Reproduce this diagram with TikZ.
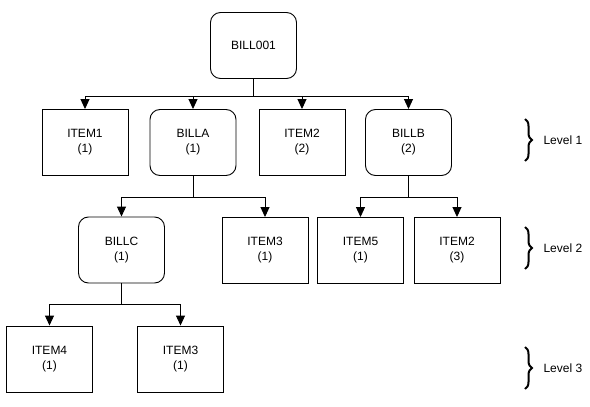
\documentclass[tikz,border=0pt]{standalone}
\usepackage{fontspec}
\setmainfont{Liberation Sans}
\usetikzlibrary{arrows.meta,decorations.pathreplacing}

\begin{document}
\begin{tikzpicture}[x=1pt,y=-1pt,
    part/.style={draw, line width=0.9pt, minimum width=86pt, minimum height=66pt,
        align=center, inner sep=2pt, font=\fontsize{12}{15}\selectfont},
    bill/.style={part, rounded corners=10pt},
    link/.style={line width=0.9pt, -{Triangle[width=9pt,length=10pt]}},
    lvl/.style={decorate, decoration={brace, amplitude=7pt}, line width=2pt},
    lvltext/.style={right, font=\fontsize{12}{14}\selectfont}]
    \useasboundingbox (0,0) rectangle (590,407);

    % Top level bill
    \node[bill] (bill001) at (253.5,45.5) {BILL001};

    % Level 1
    \node[part] (item1) at (85,142.5) {ITEM1\\(1)};
    \node[bill] (billa) at (193,142.5) {BILLA\\(1)};
    \node[part] (item2a) at (302,142.5) {ITEM2\\(2)};
    \node[bill] (billb) at (408.5,142.5) {BILLB\\(2)};

    % Level 2
    \node[bill] (billc) at (121.5,250) {BILLC\\(1)};
    \node[part] (item3a) at (265,250.5) {ITEM3\\(1)};
    \node[part] (item5) at (360.5,250.5) {ITEM5\\(1)};
    \node[part] (item2b) at (457,250.5) {ITEM2\\(3)};

    % Level 3
    \node[part] (item4) at (49.5,359) {ITEM4\\(1)};
    \node[part] (item3b) at (180.5,359) {ITEM3\\(1)};

    % Links from each bill to its parts
    \foreach \child in {item1,billa,item2a,billb}
        \draw[link] (bill001.south) -- ++(0,17) -| (\child.north);
    \foreach \child in {billc,item3a}
        \draw[link] (billa.south) -- ++(0,21) -| (\child.north);
    \foreach \child in {item5,item2b}
        \draw[link] (billb.south) -- ++(0,21) -| (\child.north);
    \foreach \child in {item4,item3b}
        \draw[link] (billc.south) -- ++(0,21) -| (\child.north);

    % Level braces
    \draw[lvl] (525,119) -- (525,161);
    \node[lvltext] (lvl1) at (540,140) {Level 1};
    \draw[lvl] (525,227) -- (525,269);
    \node[lvltext] (lvl2) at (540,248) {Level 2};
    \draw[lvl] (525,347) -- (525,389);
    \node[lvltext] (lvl3) at (540,368.5) {Level 3};

\end{tikzpicture}
\end{document}
